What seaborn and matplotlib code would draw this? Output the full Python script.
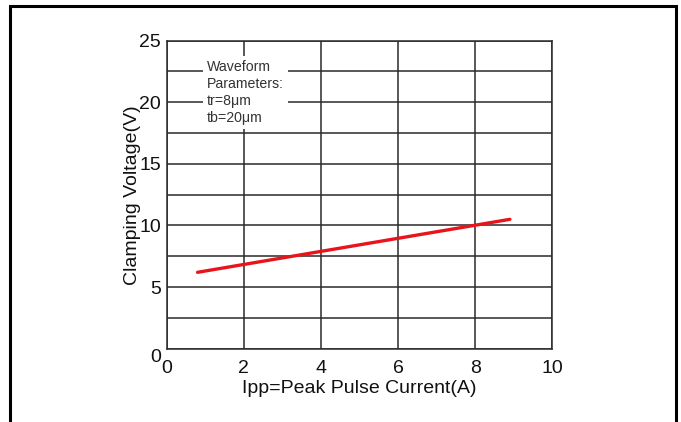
import matplotlib
matplotlib.use("Agg")
import matplotlib.pyplot as plt
import seaborn as sns
import pandas as pd
from matplotlib.patches import Rectangle

# Data
current = [0.8, 8.9]
voltage = [6.2, 10.5]
x_ticks = [0, 2, 4, 6, 8, 10]
y_ticks = [0, 5, 10, 15, 20, 25]
y_minor = [2.5, 7.5, 12.5, 17.5, 22.5]
note_lines = ["Waveform", "Parameters:", "tr=8μm", "tb=20μm"]

sns.set_theme(style="white")
plt.rcParams['font.family'] = ['Liberation Sans', 'DejaVu Sans']

fig = plt.figure(figsize=(6.81, 4.22), dpi=100)
ax = fig.add_axes([0.2448, 0.1737, 0.5662, 0.7299])

df = pd.DataFrame({"Ipp": current, "Vc": voltage})
sns.lineplot(data=df, x="Ipp", y="Vc", ax=ax, color="#e8141c", linewidth=2.4, zorder=5)

ax.set_xlim(0, 10)
ax.set_ylim(0, 25)
ax.set_xticks(x_ticks)
ax.set_yticks(y_ticks)
ax.set_yticks(y_minor, minor=True)
ax.grid(True, which="both", color="#2a2a2a", linewidth=1.1)
ax.tick_params(which="both", length=0, labelsize=14, colors="#111111")
ax.tick_params(axis="x", pad=8)
ax.tick_params(axis="y", pad=4)
for s in ax.spines.values():
    s.set_color("#2a2a2a")
    s.set_linewidth(1.1)

ylabels = ax.get_yticklabels()
ylabels[0].set_va("top")

ax.set_xlabel("Ipp=Peak Pulse Current(A)", fontsize=14, color="#111111", labelpad=2)
ax.set_ylabel("Clamping Voltage(V)", fontsize=14, color="#111111", labelpad=-1.5)

ax.text(1.05, 23.4, "\n".join(note_lines), fontsize=10.2, color="#333333",
        va="top", ha="left", zorder=6, linespacing=1.25,
        bbox=dict(facecolor="white", edgecolor="none", pad=3))

fig.patches.append(Rectangle((0.0147, -0.01), 0.9780, 0.9958, transform=fig.transFigure,
                             fill=False, edgecolor="black", linewidth=2.2))

fig.savefig("out.png", dpi=100)
